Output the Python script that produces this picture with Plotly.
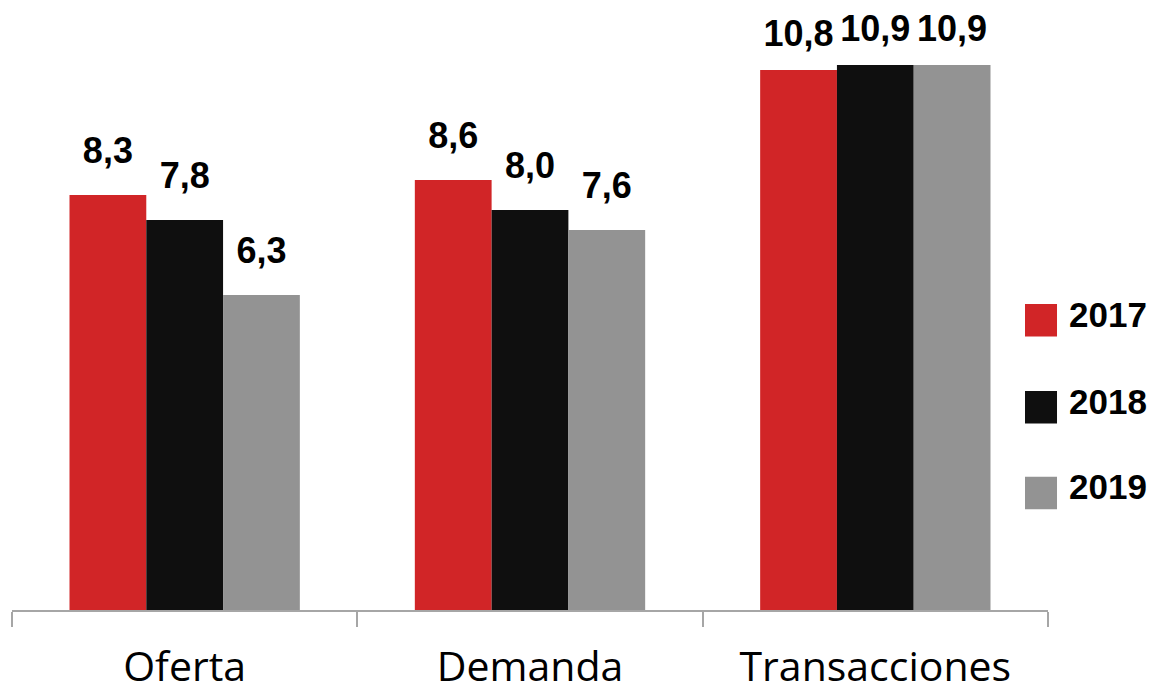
import plotly.graph_objects as go

categories = ["Oferta", "Demanda", "Transacciones"]
years = ["2017", "2018", "2019"]
values_2017 = [8.3, 8.6, 10.8]
values_2018 = [7.8, 8.0, 10.9]
values_2019 = [6.3, 7.6, 10.9]
colors = ["#D12527", "#0F0F0F", "#939393"]

# invisible marker sizes controlling the gap between bar top and value label
label_gap = [36, 36, 22]

series = [values_2017, values_2018, values_2019]
label_font = dict(family="Liberation Sans, Arial, sans-serif", size=36, color="#000000", weight=700)
legend_font = dict(family="Liberation Sans, Arial, sans-serif", size=35, color="#000000", weight=700)

fig = go.Figure()
for yr, vals, col in zip(years, series, colors):
    fig.add_trace(go.Bar(
        name=yr, x=categories, y=vals, marker=dict(color=col, line=dict(width=0)),
        showlegend=False, offsetgroup=yr,
    ))
for yr, vals in zip(years, series):
    fig.add_trace(go.Scatter(
        x=categories, y=vals, mode="markers+text", offsetgroup=yr,
        marker=dict(size=label_gap, color="rgba(0,0,0,0)", opacity=0,
                    line=dict(width=0, color="rgba(0,0,0,0)")),
        texttemplate="%{y:.1f}", textposition="top center", textfont=label_font,
        cliponaxis=False, showlegend=False, hoverinfo="skip",
    ))

# manual legend (large squares)
leg_y = [0.483, 0.338, 0.195]
for yr, col, yc in zip(years, colors, leg_y):
    fig.add_shape(type="rect", xref="paper", yref="paper", x0=0.9778, x1=1.0087,
                  y0=yc - 0.027, y1=yc + 0.027, fillcolor=col, line=dict(width=0))
    fig.add_annotation(xref="paper", yref="paper", x=1.0183, y=yc, text=yr, yshift=6,
                       showarrow=False, xanchor="left", yanchor="middle", font=legend_font)

fig.update_layout(
    width=1157, height=694,
    margin=dict(l=4, r=117, t=2, b=92),
    plot_bgcolor="white", paper_bgcolor="white",
    barmode="group", bargap=0.333, bargroupgap=0,
    scattermode="group", scattergap=0.333,
    separators=",.",
    showlegend=False,
    xaxis=dict(showline=True, linecolor="#A6A6A6", linewidth=1.5, ticks="outside",
               tickson="boundaries", ticklen=15, tickcolor="#A6A6A6", tickwidth=1.5,
               ticklabelstandoff=20,
               tickfont=dict(family="Open Sans, sans-serif", size=41, color="#000000"),
               showgrid=False),
    yaxis=dict(range=[0, 12], visible=False, showgrid=False),
)

fig.write_html("out.html", config={"displayModeBar": False})
